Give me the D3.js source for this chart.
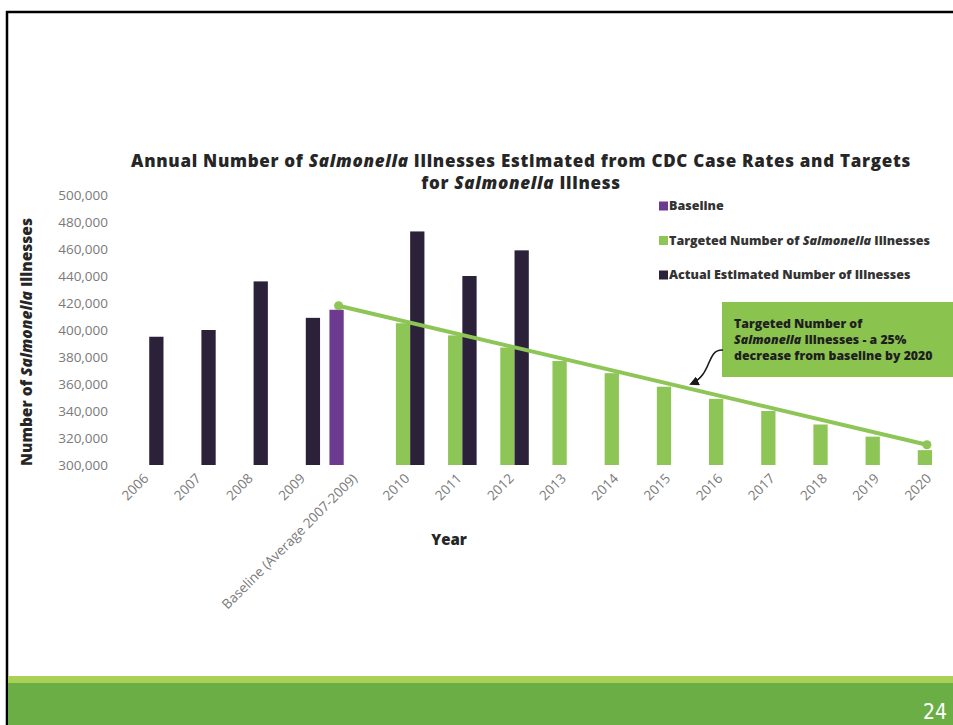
<!DOCTYPE html>
<html>
<head>
<meta charset="utf-8">
<script src="https://cdn.jsdelivr.net/npm/d3@7/dist/d3.min.js"></script>
<style>
  html, body { margin: 0; padding: 0; background: #fff; }
  svg { display: block; font-family: "Open Sans", "Noto Sans", sans-serif; }
</style>
</head>
<body>
<svg id="chart" width="953" height="725"></svg>
<script>
// ---- data ----
const categories = ["2006", "2007", "2008", "2009", "Baseline (Average 2007-2009)",
  "2010", "2011", "2012", "2013", "2014", "2015", "2016", "2017", "2018", "2019", "2020"];

const seriesKeys = ["baseline", "target", "actual"];
const seriesLabels = ["Baseline", "Targeted Number of Salmonella Illnesses", "Actual Estimated Number of Illnesses"];

const baselineValues = [null, null, null, null, 415000,
  null, null, null, null, null, null, null, null, null, null, null];
const targetValues = [null, null, null, null, null,
  405000, 396000, 387000, 377000, 368000, 358000, 349000, 340000, 330000, 321000, 311000];
const actualValues = [395000, 400000, 436000, 409000, null,
  473000, 440000, 459000, null, null, null, null, null, null, null, null];

// target trend line: from the baseline down to the 2020 goal
const trendCategories = ["Baseline (Average 2007-2009)", "2020"];
const trendSeries = ["baseline", "target"];
const trendValues = [418000, 315000];

const yTickValues = [300000, 320000, 340000, 360000, 380000, 400000, 420000, 440000, 460000, 480000, 500000];

const colors = { baseline: "#6c3b8f", target: "#8dc556", actual: "#2b2139" };

// ---- layout ----
const svg = d3.select("#chart");

// slide frame
svg.append("line").attr("x1", 6).attr("x2", 953).attr("y1", 12).attr("y2", 12)
  .attr("stroke", "#000").attr("stroke-width", 2.5);
svg.append("line").attr("x1", 7).attr("x2", 7).attr("y1", 11).attr("y2", 725)
  .attr("stroke", "#000").attr("stroke-width", 2.5);

// footer band
svg.append("rect").attr("x", 8).attr("y", 676).attr("width", 945).attr("height", 8).attr("fill", "#a9d156");
svg.append("rect").attr("x", 8).attr("y", 683).attr("width", 945).attr("height", 42).attr("fill", "#6cae46");
svg.append("text").attr("x", 947).attr("y", 719).attr("text-anchor", "end")
  .attr("fill", "#ffffff").attr("font-size", 21)
  .attr("font-family", "'Liberation Sans Narrow', 'DejaVu Sans Condensed', sans-serif")
  .text("24");

// scales
const x = d3.scaleBand().domain(categories).range([116, 951]).paddingInner(0.18).paddingOuter(0.09);
const xSub = d3.scaleBand().domain(seriesKeys).range([0, x.bandwidth()]);
const y = d3.scaleLinear().domain([300000, 500000]).range([465, 195]);

// y axis
const yAxis = svg.append("g").attr("transform", "translate(113,0)")
  .call(d3.axisLeft(y).tickValues(yTickValues).tickFormat(d3.format(",")).tickSize(0).tickPadding(5));
yAxis.select(".domain").remove();
yAxis.selectAll("text").attr("font-family", "'Open Sans', sans-serif")
  .attr("font-size", 13.5).attr("fill", "#7a7a7a");

// y axis title
const yTitle = svg.append("text").attr("transform", "translate(27,342) rotate(-90)")
  .attr("text-anchor", "middle").attr("dy", "0.35em")
  .attr("font-size", 15.5).attr("font-weight", 800).attr("fill", "#262626");
yTitle.append("tspan").text("Number of ");
yTitle.append("tspan").attr("font-style", "italic").text("Salmonella");
yTitle.append("tspan").text(" Illnesses");

// bars
const valuesByKey = { baseline: baselineValues, target: targetValues, actual: actualValues };
const barData = [];
seriesKeys.forEach(k => {
  valuesByKey[k].forEach((v, i) => {
    if (v != null) barData.push({ key: k, cat: categories[i], value: v });
  });
});
svg.append("g").selectAll("rect").data(barData).join("rect")
  .attr("x", d => x(d.cat) + xSub(d.key))
  .attr("width", xSub.bandwidth())
  .attr("y", d => y(d.value))
  .attr("height", d => y(300000) - y(d.value))
  .attr("fill", d => colors[d.key]);

// x tick labels (rotated)
svg.append("g").selectAll("text").data(categories).join("text")
  .attr("transform", d => `translate(${x(d) + x.bandwidth() / 2 + 4},476) rotate(-45)`)
  .attr("text-anchor", "end").attr("dy", "0.35em")
  .attr("font-size", 13.5).attr("fill", "#7a7a7a")
  .text(d => d);

// x axis title
svg.append("text").attr("x", 449).attr("y", 540).attr("dy", "0.35em")
  .attr("text-anchor", "middle").attr("font-size", 15).attr("font-weight", 800)
  .attr("fill", "#262626").text("Year");

// trend line
const trendPts = trendCategories.map((c, i) => [x(c) + xSub(trendSeries[i]) + xSub.bandwidth() / 2 + 2, y(trendValues[i])]);
svg.append("path").attr("d", d3.line()(trendPts))
  .attr("stroke", colors.target).attr("stroke-width", 4).attr("fill", "none");
svg.append("g").selectAll("circle").data(trendPts).join("circle")
  .attr("cx", d => d[0]).attr("cy", d => d[1]).attr("r", 4.5).attr("fill", colors.target);

// title (two lines)
const titleStyle = sel => sel.attr("x", 521).attr("text-anchor", "middle")
  .attr("font-size", 17).attr("font-weight", 800).attr("letter-spacing", 0.7).attr("fill", "#262626");
const t1 = svg.append("text").call(titleStyle).attr("y", 167);
t1.append("tspan").text("Annual Number of ");
t1.append("tspan").attr("font-style", "italic").text("Salmonella");
t1.append("tspan").text(" Illnesses Estimated from CDC Case Rates and Targets");
const t2 = svg.append("text").call(titleStyle).attr("y", 189);
t2.append("tspan").text("for ");
t2.append("tspan").attr("font-style", "italic").text("Salmonella");
t2.append("tspan").text(" Illness");

// legend
const legendY = [206, 240.5, 275];
const legend = svg.append("g");
seriesKeys.forEach((k, i) => {
  legend.append("rect").attr("x", 659).attr("y", legendY[i] - 4.5).attr("width", 9).attr("height", 9)
    .attr("fill", colors[k]);
  const t = legend.append("text").attr("x", 669).attr("y", legendY[i]).attr("dy", "0.35em")
    .attr("font-size", 12.5).attr("font-weight", 800).attr("fill", "#333");
  const label = seriesLabels[i];
  if (label.includes("Salmonella")) {
    const parts = label.split("Salmonella");
    t.append("tspan").text(parts[0]);
    t.append("tspan").attr("font-style", "italic").text("Salmonella");
    t.append("tspan").text(parts[1]);
  } else {
    t.text(label);
  }
});

// callout box
svg.append("rect").attr("x", 722).attr("y", 302).attr("width", 231).attr("height", 75)
  .attr("fill", "#8bc34f");
const noteStyle = sel => sel.attr("x", 734).attr("dy", "0.35em").attr("font-size", 12.3)
  .attr("font-weight", 800).attr("fill", "#1f1f1f");
svg.append("text").call(noteStyle).attr("y", 324).text("Targeted Number of");
const n2 = svg.append("text").call(noteStyle).attr("y", 340);
n2.append("tspan").attr("font-style", "italic").text("Salmonella");
n2.append("tspan").text(" Illnesses - a 25%");
svg.append("text").call(noteStyle).attr("y", 356).text("decrease from baseline by 2020");

// callout arrow
const defs = svg.append("defs");
defs.append("marker").attr("id", "arrowhead").attr("viewBox", "0 0 10 10")
  .attr("refX", 8).attr("refY", 5).attr("markerWidth", 6).attr("markerHeight", 6)
  .attr("orient", "auto")
  .append("path").attr("d", "M0,0 L10,5 L0,10 Z").attr("fill", "#1a1a1a");
svg.append("path").attr("d", "M723,350 C706,349 713,374 691,384")
  .attr("fill", "none").attr("stroke", "#1a1a1a").attr("stroke-width", 1.6)
  .attr("marker-end", "url(#arrowhead)");
</script>
</body>
</html>
